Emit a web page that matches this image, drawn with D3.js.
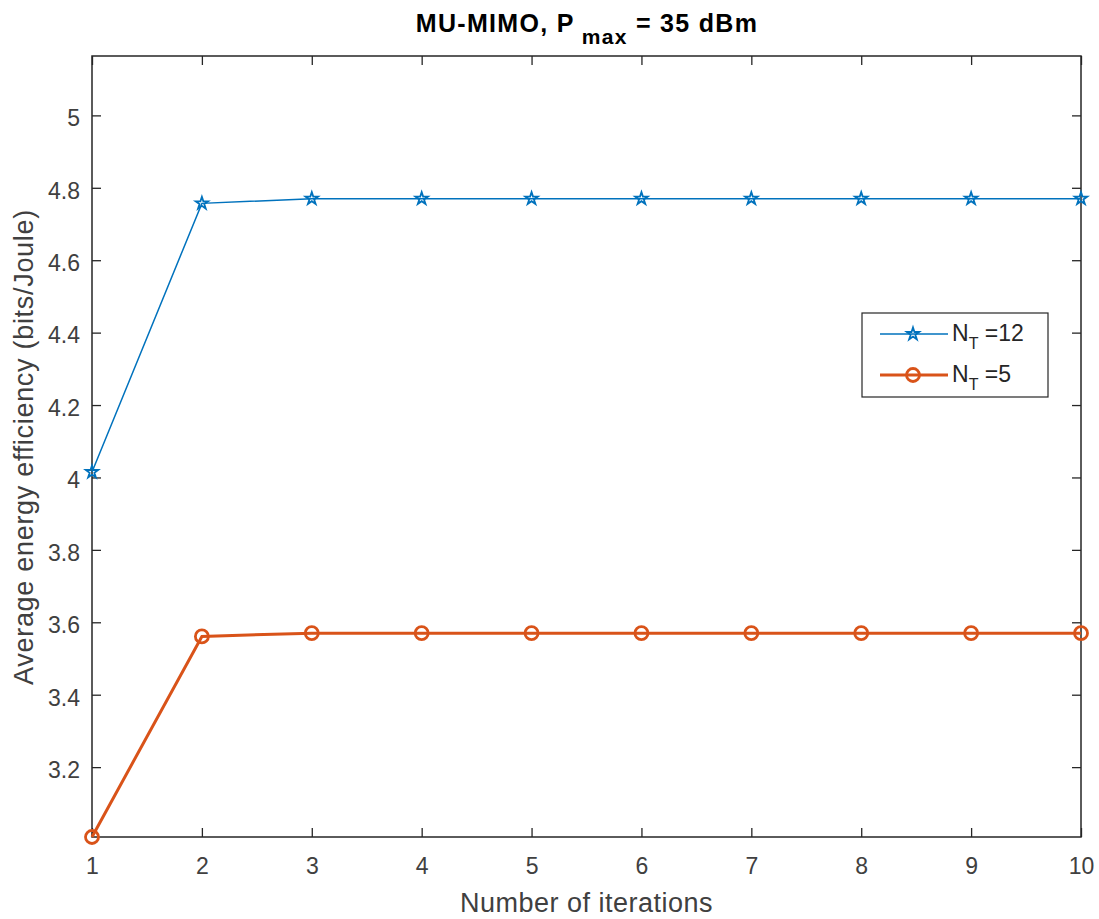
<!DOCTYPE html>
<html lang="en">

<head>
    <script src='https://d3js.org/d3.v7.min.js'></script>
</head>

<body style="margin:0;background:#fff">

    <style>
        svg text {
            font-family: "Liberation Sans", Arial, sans-serif;
            fill: #404040;
        }
    </style>

    <script>
        // data
        let iterations = [1, 2, 3, 4, 5, 6, 7, 8, 9, 10];
        let eeNT12 = [4.015, 4.757, 4.770, 4.770, 4.770, 4.770, 4.770, 4.770, 4.770, 4.770];
        let eeNT5 = [3.007, 3.561, 3.570, 3.570, 3.570, 3.570, 3.570, 3.570, 3.570, 3.570];
        let yTicks = [3.2, 3.4, 3.6, 3.8, 4, 4.2, 4.4, 4.6, 4.8, 5];
        let xTicks = [1, 2, 3, 4, 5, 6, 7, 8, 9, 10];
        let seriesNames = ["12", "5"];

        var width = 1099;
        var height = 919;
        // plot box (note: "top" clashes with window.top)
        var pLeft = 92, pTop = 56, pRight = 1081, pBottom = 837;

        var svg = d3.select("body")
            .append("svg")
            .attr("width", width)
            .attr("height", height);

        var x = d3.scaleLinear().domain([1, 10]).range([pLeft, pRight]);
        var y = d3.scaleLinear().domain([3.007, 5.164]).range([pBottom, pTop]);

        // axes, ticks inward like matlab
        var tickLen = 9;
        svg.append("g")
            .attr("transform", "translate(0," + pBottom + ")")
            .call(d3.axisBottom(x).tickValues(xTicks).tickSizeInner(-tickLen).tickSizeOuter(0).tickPadding(21).tickFormat(d3.format("d")))
            .call(g => g.select(".domain").remove());
        svg.append("g")
            .attr("transform", "translate(0," + pTop + ")")
            .call(d3.axisTop(x).tickValues(xTicks).tickSizeInner(-tickLen).tickSizeOuter(0).tickFormat(""))
            .call(g => g.select(".domain").remove());
        svg.append("g")
            .attr("class", "yleft")
            .attr("transform", "translate(" + pLeft + ",0)")
            .call(d3.axisLeft(y).tickValues(yTicks).tickSizeInner(-tickLen).tickSizeOuter(0).tickPadding(12).tickFormat(d => String(+d.toFixed(1))))
            .call(g => g.select(".domain").remove());
        svg.append("g")
            .attr("transform", "translate(" + pRight + ",0)")
            .call(d3.axisRight(y).tickValues(yTicks).tickSizeInner(-tickLen).tickSizeOuter(0).tickFormat(""))
            .call(g => g.select(".domain").remove());

        svg.selectAll(".tick line").attr("stroke", "#262626").attr("stroke-width", 1.3);
        svg.selectAll(".tick text")
            .attr("font-family", null)
            .attr("font-size", null)
            .style("font-size", "23px")
            .style("fill", "#404040");
        svg.selectAll(".yleft .tick text").attr("dy", "0.45em");

        svg.append("rect")
            .attr("x", pLeft).attr("y", pTop)
            .attr("width", pRight - pLeft).attr("height", pBottom - pTop)
            .attr("fill", "none").attr("stroke", "#262626").attr("stroke-width", 1.5);

        var line = d3.line()
            .x(function(d, i) { return x(iterations[i]); })
            .y(function(d) { return y(d); });

        var star = d3.symbol().type(d3.symbolStar).size(48);

        // NT = 12
        svg.append("path")
            .datum(eeNT12)
            .attr("d", line)
            .attr("fill", "none")
            .attr("stroke", "#0072BD")
            .attr("stroke-width", 1.5);
        svg.selectAll(".m12")
            .data(eeNT12)
            .enter()
            .append("path")
            .attr("transform", function(d, i) { return "translate(" + x(iterations[i]) + "," + y(d) + ")"; })
            .attr("d", star)
            .attr("fill", "none")
            .attr("stroke", "#0072BD")
            .attr("stroke-width", 1.8);

        // NT = 5
        svg.append("path")
            .datum(eeNT5)
            .attr("d", line)
            .attr("fill", "none")
            .attr("stroke", "#D95319")
            .attr("stroke-width", 3);
        svg.selectAll(".m5")
            .data(eeNT5)
            .enter()
            .append("circle")
            .attr("cx", function(d, i) { return x(iterations[i]); })
            .attr("cy", function(d) { return y(d); })
            .attr("r", 6.5)
            .attr("fill", "none")
            .attr("stroke", "#D95319")
            .attr("stroke-width", 2.8);

        // title
        var title = svg.append("text")
            .attr("x", 587).attr("y", 32)
            .attr("text-anchor", "middle")
            .style("font-size", "25px")
            .style("font-weight", "bold")
            .style("letter-spacing", "1.3px")
            .style("fill", "#000");
        title.append("tspan").text("MU-MIMO, P");
        title.append("tspan").attr("dy", 12).style("font-size", "21px").text(" max");
        title.append("tspan").attr("dy", -12).text(" = 35 dBm");

        // axis labels
        svg.append("text")
            .attr("x", (pLeft + pRight) / 2).attr("y", 912)
            .attr("text-anchor", "middle")
            .style("font-size", "27px")
            .style("letter-spacing", "0.5px")
            .text("Number of iterations");
        svg.append("text")
            .attr("transform", "translate(33,447) rotate(-90)")
            .attr("text-anchor", "middle")
            .style("font-size", "27px")
            .style("letter-spacing", "0.7px")
            .text("Average energy efficiency (bits/Joule)");

        // legend
        var lg = svg.append("g");
        lg.append("rect")
            .attr("x", 862).attr("y", 313)
            .attr("width", 186).attr("height", 84)
            .attr("fill", "#fff").attr("stroke", "#262626").attr("stroke-width", 1.2);
        var rows = [
            { name: seriesNames[0], color: "#0072BD", w: 1.5, y: 334, mark: "star" },
            { name: seriesNames[1], color: "#D95319", w: 3, y: 375, mark: "circle" }
        ];
        rows.forEach(function(r) {
            lg.append("line")
                .attr("x1", 880).attr("x2", 948)
                .attr("y1", r.y).attr("y2", r.y)
                .attr("stroke", r.color).attr("stroke-width", r.w);
            if (r.mark == "star") {
                lg.append("path")
                    .attr("transform", "translate(913," + r.y + ")")
                    .attr("d", star)
                    .attr("fill", "none").attr("stroke", r.color).attr("stroke-width", 1.8);
            } else {
                lg.append("circle")
                    .attr("cx", 913).attr("cy", r.y).attr("r", 6.5)
                    .attr("fill", "none").attr("stroke", r.color).attr("stroke-width", 2.8);
            }
            var t = lg.append("text")
                .attr("x", 952).attr("y", r.y + 7)
                .style("font-size", "23px")
                .style("fill", "#262626");
            t.append("tspan").text("N");
            t.append("tspan").attr("dy", 8).style("font-size", "16px").text("T");
            t.append("tspan").attr("dy", -8).text(" =" + r.name);
        });
    </script>
</body>

</html>
